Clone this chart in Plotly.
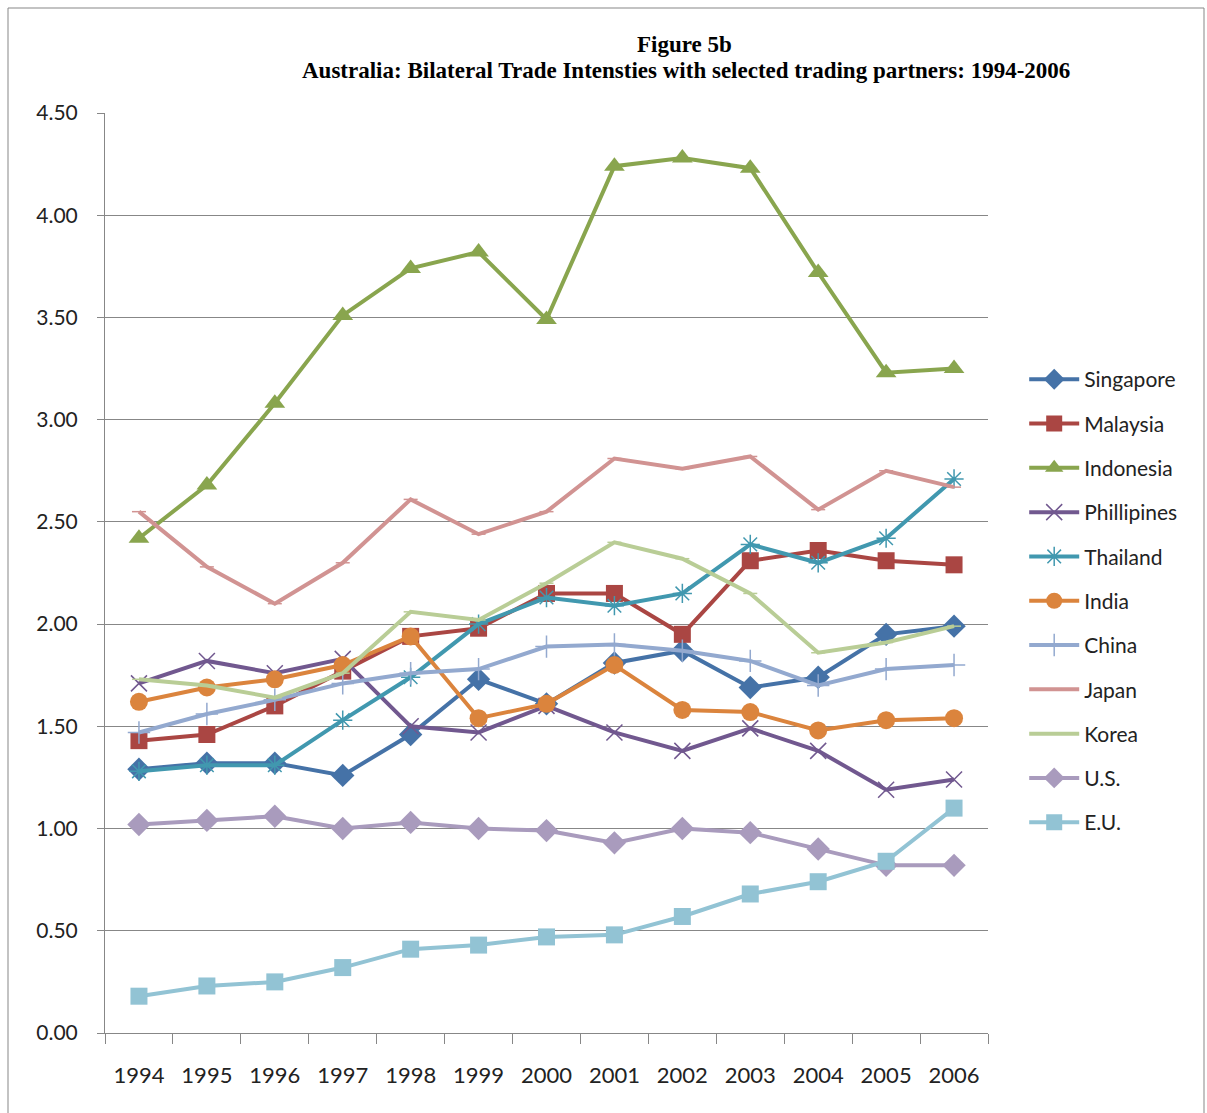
import plotly.graph_objects as go

years = ["1994", "1995", "1996", "1997", "1998", "1999", "2000",
         "2001", "2002", "2003", "2004", "2005", "2006"]

singapore   = [1.29, 1.32, 1.32, 1.26, 1.46, 1.73, 1.61, 1.81, 1.87, 1.69, 1.74, 1.95, 1.99]
malaysia    = [1.43, 1.46, 1.60, 1.77, 1.94, 1.98, 2.15, 2.15, 1.95, 2.31, 2.36, 2.31, 2.29]
indonesia   = [2.42, 2.68, 3.08, 3.51, 3.74, 3.82, 3.49, 4.24, 4.28, 4.23, 3.72, 3.23, 3.25]
phillipines = [1.71, 1.82, 1.76, 1.83, 1.50, 1.47, 1.60, 1.47, 1.38, 1.49, 1.38, 1.19, 1.24]
thailand    = [1.28, 1.31, 1.31, 1.53, 1.74, 2.00, 2.13, 2.09, 2.15, 2.39, 2.30, 2.42, 2.71]
india       = [1.62, 1.69, 1.73, 1.80, 1.94, 1.54, 1.61, 1.80, 1.58, 1.57, 1.48, 1.53, 1.54]
china       = [1.47, 1.56, 1.63, 1.71, 1.76, 1.78, 1.89, 1.90, 1.87, 1.82, 1.70, 1.78, 1.80]
japan       = [2.55, 2.28, 2.10, 2.30, 2.61, 2.44, 2.55, 2.81, 2.76, 2.82, 2.56, 2.75, 2.67]
korea       = [1.73, 1.70, 1.64, 1.76, 2.06, 2.02, 2.20, 2.40, 2.32, 2.15, 1.86, 1.91, 1.99]
us          = [1.02, 1.04, 1.06, 1.00, 1.03, 1.00, 0.99, 0.93, 1.00, 0.98, 0.90, 0.82, 0.82]
eu          = [0.18, 0.23, 0.25, 0.32, 0.41, 0.43, 0.47, 0.48, 0.57, 0.68, 0.74, 0.84, 1.10]

series = [
    ("Singapore", singapore, "#4572A7", "diamond", 18),
    ("Malaysia", malaysia, "#AA4643", "square", 17),
    ("Indonesia", indonesia, "#89A54E", "triangle-up", 18),
    ("Phillipines", phillipines, "#71588F", "x-thin", 16),
    ("Thailand", thailand, "#4198AF", "asterisk", 16),
    ("India", india, "#DB843D", "circle", 18),
    ("China", china, "#93A9CF", "cross-thin", 16),
    ("Japan", japan, "#D19392", "line-ew", 10),
    ("Korea", korea, "#B9CD96", "line-ew", 10),
    ("U.S.", us, "#A99BBD", "diamond", 18),
    ("E.U.", eu, "#92C3D4", "square", 17),
]

fig = go.Figure()
for i, (name, vals, col, sym, sz) in enumerate(series):
    thin = sym in ("x-thin", "asterisk", "cross-thin", "line-ew")
    fig.add_trace(go.Scatter(
        x=years, y=vals, name=name, mode="lines+markers",
        line=dict(color=col, width=4),
        marker=dict(symbol=sym, size=sz, color=col,
                    line=dict(color=col, width=1.5 if thin else 0)),
        legendgroup=f"g{i}",
    ))

title_font = dict(family="Liberation Serif, Times New Roman, serif", size=23, color="#000000")

fig.update_layout(
    width=1207, height=1113,
    margin=dict(l=105, r=219, t=113, b=80),
    paper_bgcolor="white", plot_bgcolor="white",
    font=dict(family="Lato, Liberation Sans, sans-serif", size=21, color="#222222"),
    showlegend=True,
    legend=dict(x=1.041, y=0.7325, xanchor="left", yanchor="top",
                font=dict(size=21), tracegroupgap=14, itemwidth=50,
                bgcolor="rgba(0,0,0,0)"),
    xaxis=dict(type="category", range=[-0.5, 12.5], tickson="boundaries",
               showgrid=False, showline=True, linecolor="#878787", linewidth=1,
               ticks="outside", ticklen=10, tickcolor="#878787",
               ticklabelstandoff=23, tickfont=dict(size=22)),
    yaxis=dict(range=[0, 4.5], dtick=0.5, tickformat=".2f",
               showgrid=True, gridcolor="#878787", gridwidth=1,
               showline=True, linecolor="#878787", linewidth=1,
               ticks="outside", ticklen=7, tickcolor="#878787",
               ticklabelstandoff=15, zeroline=False, tickfont=dict(size=21)),
    shapes=[dict(type="rect", xref="paper", yref="paper",
                 x0=(8 - 105) / 883, x1=(1204 - 105) / 883,
                 y0=(1033 - 1125) / 920, y1=(1033 - 8) / 920,
                 line=dict(color="#878787", width=1))],
    annotations=[
        dict(text="<b>Figure 5b</b>", xref="paper", yref="paper",
             x=(684 - 105) / 883, y=(1033 - 45) / 920, showarrow=False,
             xanchor="center", yanchor="middle", font=title_font),
        dict(text="<b>Australia: Bilateral Trade Intensties with selected trading partners: 1994-2006</b>",
             xref="paper", yref="paper",
             x=(686 - 105) / 883, y=(1033 - 71) / 920, showarrow=False,
             xanchor="center", yanchor="middle", font=title_font),
    ],
)

fig.write_html("out.html")
